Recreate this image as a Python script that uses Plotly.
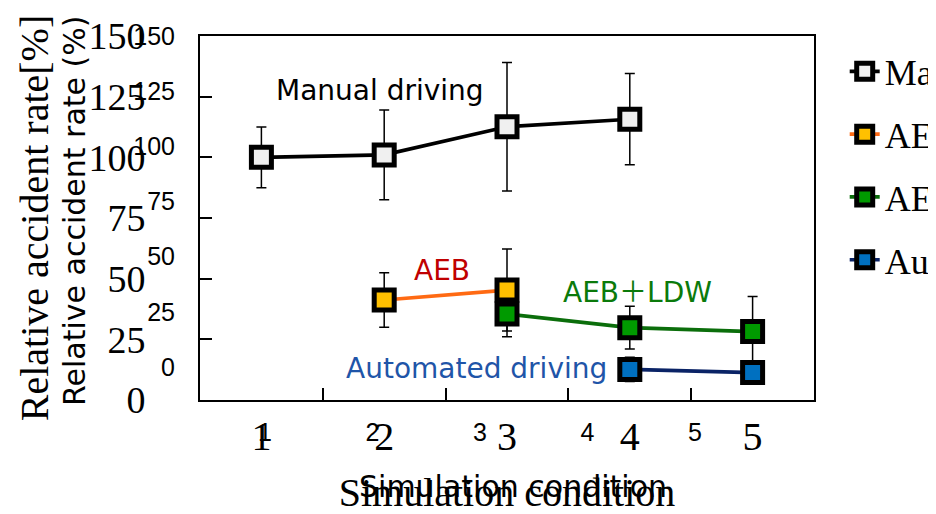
import plotly.graph_objects as go

# ---------------- data ----------------
conditions = ["1", "2", "3", "4", "5"]
y_ticks = [0, 25, 50, 75, 100, 125, 150]

manual_x = ["1", "2", "3", "4"]
manual_y = [100.0, 101.0, 112.6, 115.7]
manual_err = [12.5, 18.5, 26.5, 18.8]

aeb_x = ["2", "3"]
aeb_y = [41.2, 45.3]
aeb_err = [11.2, 16.9]

ldw_x = ["3", "4", "5"]
ldw_y = [35.4, 29.8, 28.2]
ldw_err = [9.3, 8.8, 14.4]

auto_x = ["4", "5"]
auto_y = [12.6, 11.3]
auto_err = [5.0, 4.7]

series = [
    dict(name="Manual driving", x=manual_x, y=manual_y, err=manual_err,
         line="#000000", fill="#f0f0f0"),
    dict(name="AEB", x=aeb_x, y=aeb_y, err=aeb_err,
         line="#ff6a13", fill="#ffc000"),
    dict(name="AEB＋LDW", x=ldw_x, y=ldw_y, err=ldw_err,
         line="#0b6e0b", fill="#009a00"),
    dict(name="Automated driving", x=auto_x, y=auto_y, err=auto_err,
         line="#0a2366", fill="#0070c0"),
]

SERIF = "Liberation Serif"
SANS = "DejaVu Sans"
TICK_SANS = "Liberation Sans"
CJK = "Noto Sans CJK JP"

fig = go.Figure()

# error bars first (behind every marker)
for s in series:
    fig.add_trace(go.Scatter(
        x=s["x"], y=s["y"], mode="markers",
        marker=dict(color="rgba(0,0,0,0)", size=1),
        error_y=dict(type="data", array=s["err"], color="#000000",
                     thickness=1.5, width=5),
        showlegend=False, hoverinfo="skip",
    ))

for i, s in enumerate(series):
    fig.add_trace(go.Scatter(
        x=s["x"], y=s["y"], mode="lines+markers", name=s["name"],
        legendgroup=s["name"],
        line=dict(color=s["line"], width=3.7),
        marker=dict(symbol="square", size=20, color=s["fill"],
                    line=dict(color="#000000", width=5)),
    ))

# hidden trace creating the secondary (sans) label axes
fig.add_trace(go.Scatter(
    x=[0, len(conditions) - 1], y=[y_ticks[0], y_ticks[-1]],
    xaxis="x2", yaxis="y2", mode="markers",
    marker=dict(color="rgba(0,0,0,0)", size=1),
    showlegend=False, hoverinfo="skip",
))

# annotations (series labels)
labels = [
    dict(text="Manual driving", x=0.966, y=127.5, color="#000000"),
    dict(text="AEB", x=1.47, y=53.5, color="#c00000"),
    dict(text="AEB<span style=\"font-family:'%s'\">＋</span>LDW" % CJK,
         x=3.06, y=45.5, color="#0b7a0b"),
    dict(text="Automated driving", x=1.75, y=13.0, color="#1f55a8"),
]
for a in labels:
    fig.add_annotation(x=a["x"], y=a["y"], xref="x", yref="y", text=a["text"],
                       showarrow=False, font=dict(family=SANS, size=28, color=a["color"]),
                       xanchor="center", yanchor="middle")

# sans duplicated axis titles
fig.add_annotation(x=-0.235, y=0.52, xref="paper", yref="paper",
                   text="Relative accident rate (%)", textangle=-90, showarrow=False,
                   font=dict(family=SANS, size=30, color="#000000"))
fig.add_annotation(x=0.510, y=-0.29, xref="paper", yref="paper",
                   text="Simulation condition", showarrow=False,
                   font=dict(family=SANS, size=30, color="#000000"))

fig.update_layout(
    width=936, height=514,
    margin=dict(l=192, r=130, t=28, b=122, autoexpand=False),
    paper_bgcolor="white", plot_bgcolor="rgba(0,0,0,0)",
    font=dict(family=SERIF, color="#000000"),
    showlegend=True,
    legend=dict(x=1.05, y=0.985, xanchor="left", yanchor="top",
                font=dict(family=SERIF, size=36, color="#000000"),
                traceorder="grouped", tracegroupgap=13,
                bgcolor="rgba(0,0,0,0)"),
    xaxis=dict(
        type="category", categoryorder="array", categoryarray=conditions, range=[-0.5, 4.5],
        tickson="boundaries", ticks="inside", ticklen=12, tickwidth=1.5,
        tickcolor="#000000",
        showline=True, mirror=True, linecolor="#000000", linewidth=2,
        showgrid=False, zeroline=False,
        tickfont=dict(family=SERIF, size=40),
        title=dict(text="Simulation condition", font=dict(family=SERIF, size=40), standoff=20),
        automargin=False,
    ),
    yaxis=dict(
        range=[0, 150], tickvals=y_ticks,
        ticks="inside", ticklen=12, tickwidth=1.5, tickcolor="#000000",
        showline=True, mirror=True, linecolor="#000000", linewidth=2,
        showgrid=False, zeroline=False,
        tickfont=dict(family=SERIF, size=38), ticklabelstandoff=45,
        title=dict(text="Relative accident rate[%]", font=dict(family=SERIF, size=40), standoff=27),
        automargin=False,
    ),
    xaxis2=dict(
        anchor="free", position=0, domain=[0.0183, 0.8937], range=[-0.5, 4.5],
        tickvals=list(range(len(conditions))), ticktext=conditions,
        showline=False, ticks="", showgrid=False, zeroline=False,
        tickfont=dict(family=TICK_SANS, size=25), ticklabelstandoff=15,
        automargin=False,
    ),
    yaxis2=dict(
        anchor="free", position=0, domain=[0.0907, 1.0], range=[0, 150],
        tickvals=y_ticks, side="left",
        showline=False, ticks="", showgrid=False, zeroline=False,
        tickfont=dict(family=TICK_SANS, size=25), ticklabelstandoff=25,
        automargin=False,
    ),
)

fig.write_html("out.html")
